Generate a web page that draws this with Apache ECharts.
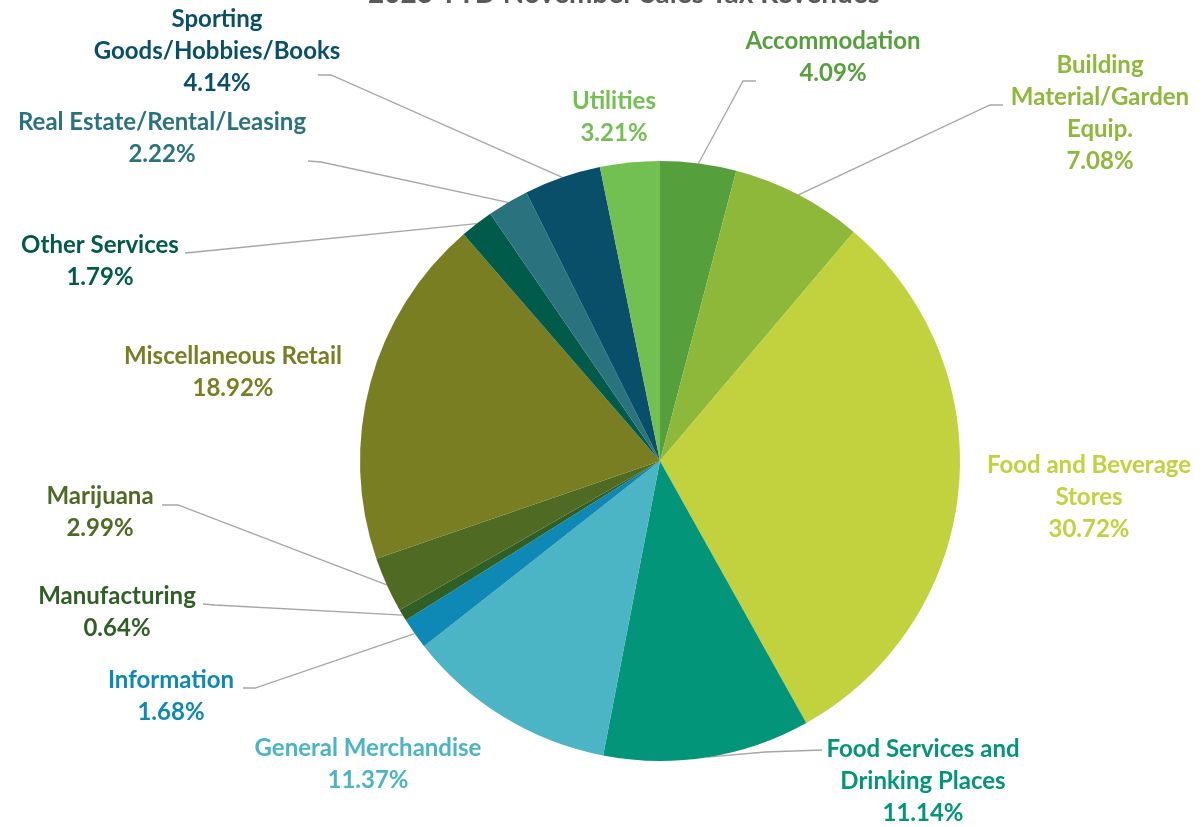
<!DOCTYPE html>
<html>
<head>
<meta charset="utf-8">
<script src="https://cdn.jsdelivr.net/npm/echarts@6/dist/echarts.min.js"></script>
<style>
  html, body { margin: 0; padding: 0; background: #ffffff; }
  #chart { width: 1204px; height: 827px; }
</style>
</head>
<body>
<div id="chart"></div>
<script>
// Sales tax revenue share by industry, clockwise from 12 o'clock
const categories = [
  'Accommodation',
  'Building\nMaterial/Garden\nEquip.',
  'Food and Beverage\nStores',
  'Food Services and\nDrinking Places',
  'General Merchandise',
  'Information',
  'Manufacturing',
  'Marijuana',
  'Miscellaneous Retail',
  'Other Services',
  'Real Estate/Rental/Leasing',
  'Sporting\nGoods/Hobbies/Books',
  'Utilities'
];
const shares = [4.09, 7.08, 30.72, 11.14, 11.37, 1.68, 0.64, 2.99, 18.92, 1.79, 2.22, 4.14, 3.21];
const sliceColors = [
  '#55a03c', '#8db83a', '#c2d13e', '#03957a', '#4bb4c5', '#0e88b4', '#2f5f25',
  '#4f6b23', '#7a7e22', '#005b4a', '#2a727d', '#0a4f6a', '#72bf52'
];
const labelColors = [
  '#55a03c', '#8db83a', '#c2d13e', '#03957a', '#4bb4c5', '#0e88b4', '#2f5f25',
  '#4f6b23', '#7a7e22', '#005b4a', '#2a727d', '#0a4f6a', '#72bf52'
];

// Pie geometry
const CX = 660, CY = 461, R = 300;

// Label block centres and leader-line elbows (null = no leader line)
const labelSpots = [
  { x: 833, y: 57,  elbow: [743, 81],  end: [756, 81] },
  { x: 1100, y: 113, elbow: [990, 105], end: [1003, 105] },
  { x: 1089, y: 497, elbow: null },
  { x: 923, y: 781, elbow: [765, 752], end: [822, 750] },
  { x: 368, y: 764, elbow: null },
  { x: 171, y: 696, elbow: [255, 688], end: [243, 688] },
  { x: 117, y: 612, elbow: [215, 605], end: [203, 604] },
  { x: 100, y: 512, elbow: [178, 505], end: [162, 505] },
  { x: 233, y: 372, elbow: null },
  { x: 100, y: 261, elbow: [196, 252], end: [185, 253] },
  { x: 162, y: 138, elbow: [321, 162], end: [308, 161] },
  { x: 217, y: 51,  elbow: [331, 75],  end: [318, 75] },
  { x: 614, y: 117, elbow: null }
];

const total = shares.reduce((a, b) => a + b, 0);
function edgePoint(i) {
  let before = 0;
  for (let k = 0; k < i; k++) before += shares[k];
  const a = (before + shares[i] / 2) / total * Math.PI * 2;
  return [CX + R * Math.sin(a), CY - R * Math.cos(a)];
}

const pieData = categories.map((name, i) => ({
  name: name,
  value: shares[i],
  itemStyle: { color: sliceColors[i] },
  label: { color: labelColors[i] },
  labelLine: { show: !!labelSpots[i].elbow }
}));

const chart = echarts.init(document.getElementById('chart'), null, { renderer: 'canvas' });
chart.setOption({
  backgroundColor: '#ffffff',
  animation: false,
  graphic: [{
    type: 'text',
    x: 624,
    y: -6,
    style: {
      text: '2023 YTD November Sales Tax Revenues',
      align: 'center',
      verticalAlign: 'middle',
      font: 'bold 28px Lato',
      fill: '#595959'
    }
  }],
  series: [{
    type: 'pie',
    center: [CX, CY],
    radius: R,
    startAngle: 90,
    clockwise: true,
    avoidLabelOverlap: false,
    data: pieData,
    itemStyle: { borderWidth: 0 },
    label: {
      show: true,
      position: 'outside',
      fontFamily: 'Lato',
      fontWeight: 'bold',
      fontSize: 24,
      lineHeight: 32,
      align: 'center',
      formatter: p => p.name + '\n' + p.value.toFixed(2) + '%'
    },
    labelLine: {
      show: true,
      lineStyle: { color: '#a6a6a6', width: 1.3 }
    },
    labelLayout: function (params) {
      const i = params.dataIndex;
      const s = labelSpots[i];
      const out = { x: s.x, y: s.y, align: 'center', verticalAlign: 'middle' };
      if (s.elbow) {
        out.labelLinePoints = [edgePoint(i), s.elbow, s.end];
      }
      return out;
    }
  }]
});
</script>
</body>
</html>
